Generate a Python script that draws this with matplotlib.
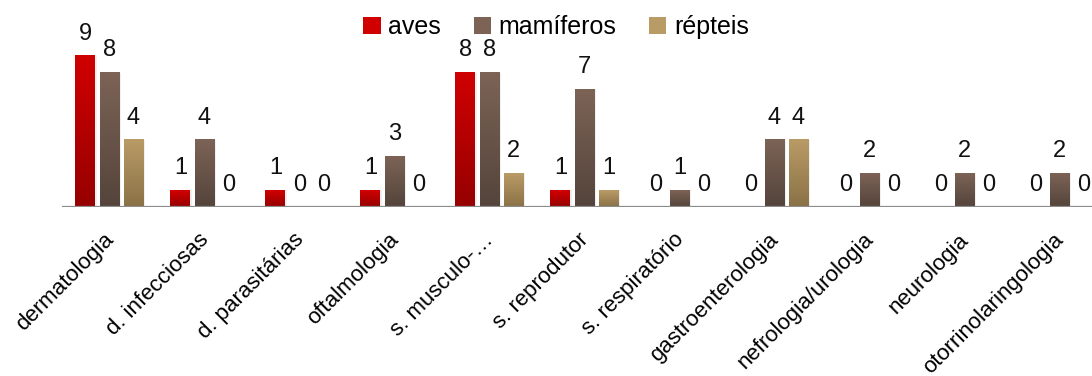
import numpy as np
import matplotlib.pyplot as plt
from matplotlib.colors import LinearSegmentedColormap
from matplotlib.patches import Patch

plt.rcParams['font.family'] = ['Liberation Sans', 'DejaVu Sans']

categorias = ['dermatologia', 'd. infecciosas', 'd. parasitárias', 'oftalmologia',
              's. musculo-…', 's. reprodutor', 's. respiratório', 'gastroenterologia',
              'nefrologia/urologia', 'neurologia', 'otorrinolaringologia']
aves = [9, 1, 1, 1, 8, 1, 0, 0, 0, 0, 0]
mamiferos = [8, 4, 0, 3, 8, 7, 1, 4, 2, 2, 2]
repteis = [4, 0, 0, 0, 2, 1, 0, 4, 0, 0, 0]

series = [
    ('aves', aves, '#d00000', '#960000'),
    ('mamíferos', mamiferos, '#7c6356', '#54443b'),
    ('répteis', repteis, '#b99b66', '#8a7146'),
]

fig = plt.figure(figsize=(10.92, 3.76), dpi=100)
ax = fig.add_axes([62 / 1092, 169 / 376, 1045 / 1092, 168 / 376])

x = np.arange(len(categorias))
width = 0.21
step = 0.253

for i, (nome, valores, topo, base) in enumerate(series):
    cmap = LinearSegmentedColormap.from_list(nome, [base, topo])
    pos = x + (i - 1) * step
    bars = ax.bar(pos, valores, width, color='none', edgecolor='none')
    for b, v in zip(bars, valores):
        x0 = b.get_x()
        if v > 0:
            grad = np.linspace(0, 1, 100).reshape(-1, 1)
            ax.imshow(grad, cmap=cmap, origin='lower', aspect='auto',
                      extent=(x0, x0 + width, 0, v), zorder=2)
            # soft shadow on the right side of each bar
            ax.add_patch(plt.Rectangle((x0 + width, 0), 0.02, v, color='#000000',
                                       alpha=0.06, lw=0, zorder=1))
        ax.annotate(str(v), (x0 + width / 2, v), xytext=(0, 8),
                    textcoords='offset points', ha='center', va='bottom',
                    fontsize=17, color='#111111')

ax.set_xlim(-0.5, len(categorias) - 0.5)
ax.set_ylim(0, 10)
ax.axhline(0, color='#8c8c8c', lw=1.6, zorder=3)
ax.axhline(-0.08, color='#000000', lw=1.5, alpha=0.08, zorder=1)

for s in ax.spines.values():
    s.set_visible(False)
ax.set_yticks([])
ax.set_xticks(x - 0.07)
ax.set_xticklabels(categorias, rotation=45, ha='right', rotation_mode='anchor',
                   fontsize=16)
ax.tick_params(axis='x', length=0, pad=16)

handles = [Patch(facecolor=topo, edgecolor='none', label=nome)
           for nome, _, topo, _ in series]
fig.legend(handles=handles, loc='center', bbox_to_anchor=(556 / 1092, 1 - 27 / 376),
           ncol=3, frameon=False, fontsize=18, handlelength=0.7, handleheight=0.7,
           handletextpad=0.3, columnspacing=1.3, borderpad=0)

fig.savefig('out.png', dpi=100)
